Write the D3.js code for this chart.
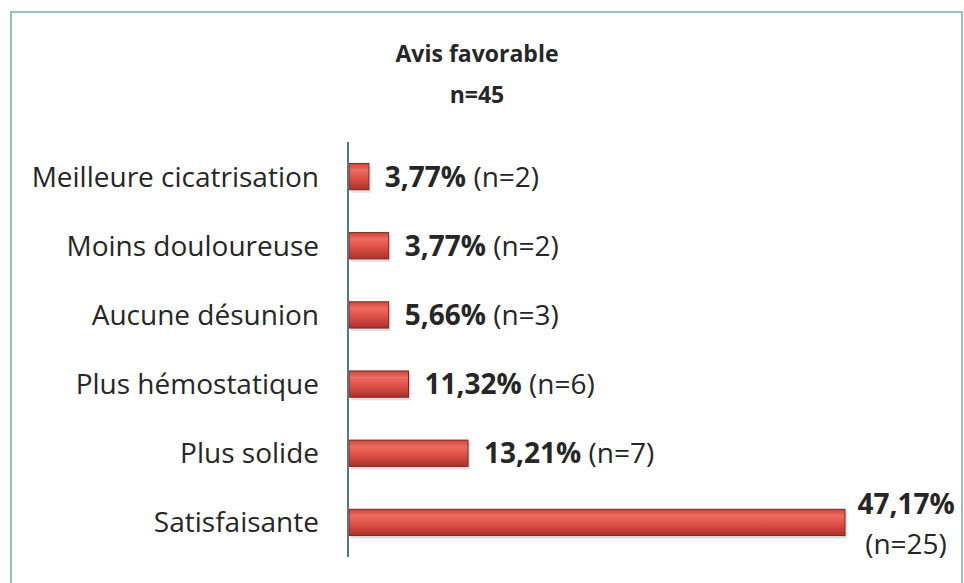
<!DOCTYPE html>
<meta charset="utf-8">
<style>
body { margin: 0; background: #fff; }
text { font-family: "Open Sans", Lato, sans-serif; fill: #262626; }
.cat { font-size: 28px; text-anchor: end; }
.title { font-size: 23px; font-weight: bold; text-anchor: middle; }
.val { font-size: 28px; }
.axis-line { stroke: #56778a; stroke-width: 2px; }
.bar { stroke: #7d2620; stroke-width: 1px; }
</style>
<body>
<div id="chart"></div>
<script src="https://d3js.org/d3.v7.min.js"></script>
<script>
// categories, top to bottom
var categories = ["Meilleure cicatrisation", "Moins douloureuse", "Aucune désunion",
                  "Plus hémostatique", "Plus solide", "Satisfaisante"];
// bar lengths as drawn in the picture (in %)
var barValues = [1.89, 3.77, 3.77, 5.66, 11.32, 47.17];
// data labels as printed
var pctLabels = ["3,77%", "3,77%", "5,66%", "11,32%", "13,21%", "47,17%"];
var nLabels = ["(n=2)", "(n=2)", "(n=3)", "(n=6)", "(n=7)", "(n=25)"];
var titleLines = ["Avis favorable", "n=45"];

var width = 964, height = 583;

var svg = d3.select("#chart").append("svg")
    .attr("width", width)
    .attr("height", height);

// gradient for the bars
var grad = svg.append("defs").append("linearGradient")
    .attr("id", "barGrad")
    .attr("x1", 0).attr("y1", 0).attr("x2", 0).attr("y2", 1);
grad.append("stop").attr("offset", "0%").attr("stop-color", "#c8463e");
grad.append("stop").attr("offset", "25%").attr("stop-color", "#ef6b61");
grad.append("stop").attr("offset", "60%").attr("stop-color", "#db4d44");
grad.append("stop").attr("offset", "100%").attr("stop-color", "#a9322b");

// outer frame
svg.append("rect")
    .attr("x", 11).attr("y", 12)
    .attr("width", 951).attr("height", 620)
    .attr("fill", "none")
    .attr("stroke", "#7ea7ba")
    .attr("stroke-width", 1.5);

// title
svg.selectAll(".title")
    .data(titleLines)
  .enter().append("text")
    .attr("class", "title")
    .attr("x", 477)
    .attr("y", function(d, i) { return 62 + i * 41; })
    .text(function(d) { return d; });

var x = d3.scaleLinear()
    .domain([0, d3.max(barValues)])
    .range([349, 845]);

var y = d3.scaleBand()
    .domain(categories)
    .range([142, 557])
    .paddingInner(0.62)
    .paddingOuter(0.31);

// category labels
svg.selectAll(".cat")
    .data(categories)
  .enter().append("text")
    .attr("class", "cat")
    .attr("x", 319)
    .attr("y", function(d) { return y(d) + y.bandwidth() / 2; })
    .attr("dy", "0.36em")
    .text(function(d) { return d; });

// shadow under bars
svg.selectAll(".shadow")
    .data(categories)
  .enter().append("rect")
    .attr("x", x(0) + 2)
    .attr("y", function(d) { return y(d) + 3; })
    .attr("width", function(d, i) { return x(barValues[i]) - x(0); })
    .attr("height", y.bandwidth())
    .attr("fill", "#000")
    .attr("opacity", 0.12);

// bars
svg.selectAll(".bar")
    .data(categories)
  .enter().append("rect")
    .attr("class", "bar")
    .attr("x", x(0))
    .attr("y", function(d) { return y(d); })
    .attr("width", function(d, i) { return x(barValues[i]) - x(0); })
    .attr("height", y.bandwidth())
    .attr("fill", "url(#barGrad)");

// axis line
svg.append("line")
    .attr("class", "axis-line")
    .attr("x1", 348).attr("x2", 348)
    .attr("y1", y.range()[0]).attr("y2", y.range()[1]);

// value labels
categories.forEach(function(c, i) {
  var cy = y(c) + y.bandwidth() / 2;
  var last = i === categories.length - 1;
  if (!last) {
    var t = svg.append("text")
        .attr("class", "val")
        .attr("x", x(barValues[i]) + 16)
        .attr("y", cy)
        .attr("dy", "0.36em");
    t.append("tspan").style("font-weight", "bold").text(pctLabels[i]);
    t.append("tspan").text(" " + nLabels[i]);
  } else {
    var cx = 906;
    svg.append("text")
        .attr("class", "val")
        .attr("text-anchor", "middle")
        .style("font-weight", "bold")
        .attr("x", cx)
        .attr("y", cy - 18)
        .attr("dy", "0.36em")
        .text(pctLabels[i]);
    svg.append("text")
        .attr("class", "val")
        .attr("text-anchor", "middle")
        .attr("x", cx)
        .attr("y", cy + 22)
        .attr("dy", "0.36em")
        .text(nLabels[i]);
  }
});
</script>
</body>
